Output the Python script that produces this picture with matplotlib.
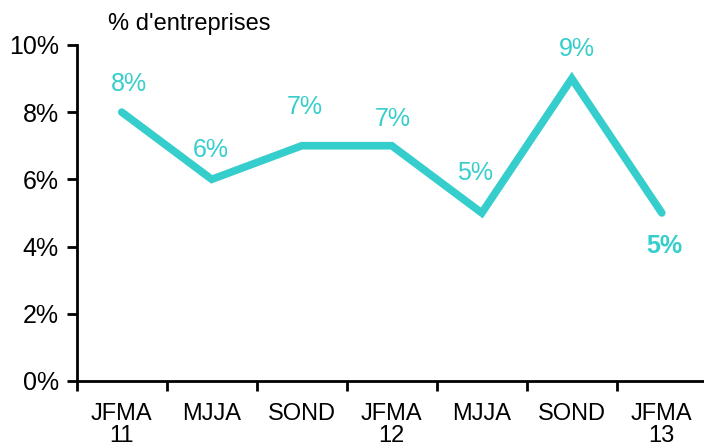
import matplotlib
matplotlib.use("Agg")
import matplotlib.pyplot as plt

# data
periods = ["JFMA\n11", "MJJA", "SOND", "JFMA\n12", "MJJA", "SOND", "JFMA\n13"]
share = [8, 6, 7, 7, 5, 9, 5]
yticks = [0, 2, 4, 6, 8, 10]

# label offsets in points (the reference places them by hand)
offsets = [(5, 20), (-1, 21), (2, 28), (1, 19.5), (-5, 29), (4, 21.5), (2, -24)]

plt.rcParams['font.family'] = ['Liberation Sans', 'DejaVu Sans']
color = '#36cdcd'

fig = plt.figure(figsize=(7.04, 4.45), dpi=100)
ax = fig.add_axes([0.109, 0.144, 0.895, 0.755])

x = list(range(len(periods)))
ax.plot(x, share, color=color, lw=5.5, solid_capstyle='round', solid_joinstyle='miter', clip_on=False)

# data labels, last one bold below the point
for i, v in enumerate(share):
    bold = i == len(share) - 1
    ax.annotate(f"{v}%", (i, v), xytext=offsets[i], textcoords='offset points',
                ha='center', va='center', color=color, fontsize=18,
                fontweight='bold' if bold else 'normal')

ax.set_xlim(-0.5, len(periods) - 0.5)
ax.set_ylim(0, 10)
ax.set_yticks(yticks)
ax.set_yticklabels([f"{t}%" for t in yticks], fontsize=18)

# ticks between categories, labels at centres
ax.set_xticks([i - 0.5 for i in range(len(periods))])
ax.set_xticklabels([])
ax.set_xticks(x, minor=True)
ax.set_xticklabels(periods, minor=True, fontsize=17, linespacing=1.0)
ax.tick_params(axis='x', which='minor', length=0, pad=16)
ax.tick_params(axis='x', which='major', length=7, width=2, direction='out')
ax.tick_params(axis='y', length=7, width=2, direction='out', pad=6)

for s in ['top', 'right']:
    ax.spines[s].set_visible(False)
for s in ['left', 'bottom']:
    ax.spines[s].set_linewidth(2)

fig.text(0.153, 0.945, "% d'entreprises", fontsize=17, va='center', ha='left')

fig.savefig("out.png", dpi=100)
